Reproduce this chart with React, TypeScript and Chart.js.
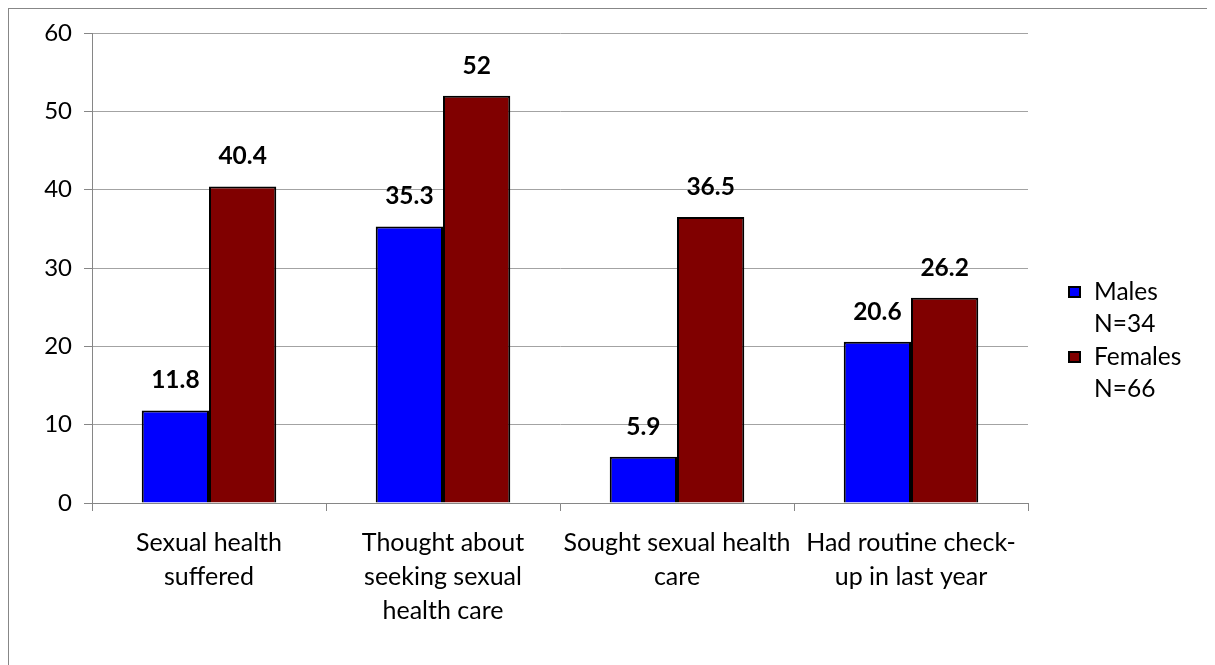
import React, { useEffect, useRef } from "react";
import { Chart, registerables } from "chart.js";

Chart.register(...registerables);

const categories: string[][] = [
  ["Sexual health", "suffered"],
  ["Thought about", "seeking sexual", "health care"],
  ["Sought sexual health", "care"],
  ["Had routine check-", "up in last year"],
];
const males: number[] = [11.8, 35.3, 5.9, 20.6];
const females: number[] = [40.4, 52, 36.5, 26.2];
const seriesNames: string[] = ["Males", "Females"];
const seriesNotes: string[] = ["N=34", "N=66"];
const seriesColors: string[] = ["#0000FF", "#800000"];
const yMin = 0;
const yMax = 60;
const yStep = 10;

const FONT = "Lato, 'Open Sans', sans-serif";

const dataLabelPlugin = {
  id: "dataLabels",
  afterDatasetsDraw(chart: any) {
    const ctx = chart.ctx;
    ctx.save();
    ctx.font = `bold 24.5px ${FONT}`;
    ctx.fillStyle = "#000";
    ctx.textAlign = "center";
    ctx.textBaseline = "middle";
    chart.data.datasets.forEach((ds: any, i: number) => {
      const meta = chart.getDatasetMeta(i);
      meta.data.forEach((el: any, j: number) => {
        ctx.fillText(String(ds.data[j]), el.x, el.y - 30);
      });
    });
    ctx.restore();
  },
};

const legendPlugin = {
  id: "customLegend",
  afterDraw(chart: any) {
    const ctx = chart.ctx;
    const area = chart.chartArea;
    ctx.save();
    ctx.font = `24.5px ${FONT}`;
    ctx.textBaseline = "middle";
    ctx.textAlign = "left";
    const x0 = area.right + 41;
    const startY = 283;
    const lineH = 32;
    chart.data.datasets.forEach((ds: any, i: number) => {
      const y = startY + i * 2 * lineH + (i > 0 ? 1 : 0);
      ctx.fillStyle = ds.backgroundColor;
      ctx.fillRect(x0, y - 5, 11, 10);
      ctx.strokeStyle = "#000";
      ctx.lineWidth = 2;
      ctx.strokeRect(x0, y - 5, 11, 10);
      ctx.fillStyle = "#000";
      ctx.fillText(seriesNames[i], x0 + 25, y);
      ctx.fillText(seriesNotes[i], x0 + 25, y + lineH);
    });
    ctx.restore();
  },
};

export default function App() {
  const ref = useRef<HTMLCanvasElement | null>(null);
  useEffect(() => {
    if (!ref.current) return;
    const chart = new Chart(ref.current, {
      type: "bar",
      data: {
        labels: categories as any,
        datasets: [
          {
            label: seriesNames[0],
            data: males,
            backgroundColor: seriesColors[0],
            borderColor: "#000",
            borderWidth: 2,
            categoryPercentage: 0.575,
            barPercentage: 1,
          },
          {
            label: seriesNames[1],
            data: females,
            backgroundColor: seriesColors[1],
            borderColor: "#000",
            borderWidth: 2,
            categoryPercentage: 0.575,
            barPercentage: 1,
          },
        ],
      },
      options: {
        responsive: false,
        animation: false,
        devicePixelRatio: 1,
        layout: { padding: { top: 24, right: 187, left: 0, bottom: 0 } },
        plugins: {
          legend: { display: false },
          tooltip: { enabled: false },
        },
        scales: {
          y: {
            min: yMin,
            max: yMax,
            ticks: {
              stepSize: yStep,
              color: "#000",
              font: { family: FONT, size: 24, lineHeight: 1 },
              padding: 12,
            },
            grid: {
              color: "#a3a3a3",
              tickColor: "#868686",
              tickLength: 8,
              lineWidth: 1,
            },
            border: { color: "#868686", width: 1 },
            afterFit: (scale: any) => {
              scale.width = 83;
            },
          },
          x: {
            ticks: {
              color: "#000",
              font: { family: FONT, size: 25, lineHeight: 34 / 25 },
              padding: 15,
              maxRotation: 0,
              autoSkip: false,
            },
            grid: {
              offset: true,
              drawOnChartArea: false,
              tickColor: "#868686",
              tickLength: 8,
              color: "#868686",
            },
            border: { color: "#868686", width: 1 },
            afterFit: (scale: any) => {
              scale.height = 162;
            },
          },
        },
      },
      plugins: [dataLabelPlugin, legendPlugin],
    });
    return () => chart.destroy();
  }, []);

  return (
    <div
      style={{
        width: 1207,
        height: 657,
        borderTop: "1px solid #878787",
        borderLeft: "1px solid #878787",
        boxSizing: "border-box",
        overflow: "hidden",
        background: "#fff",
      }}
    >
      <canvas ref={ref} width={1206} height={656} style={{ display: "block" }} />
    </div>
  );
}
